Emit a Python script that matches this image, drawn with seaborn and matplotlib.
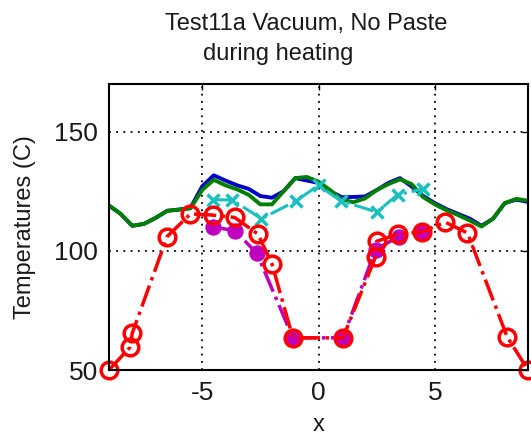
import numpy as np
import pandas as pd
import matplotlib
matplotlib.use("Agg")
import matplotlib.pyplot as plt
import seaborn as sns

# ---- data ----
grid_x = [-9, -8.5, -8, -7.5, -7, -6.5, -6, -5.5, -5, -4.5, -4, -3.5, -3, -2.5, -2, -1.5,
          -1, -0.5, 0, 0.5, 1, 1.5, 2, 2.5, 3, 3.5, 4, 4.5, 5, 5.5, 6, 6.5, 7, 7.5, 8, 8.5, 9]
blue_T = [119, 115.5, 110.5, 111.3, 113.8, 116.8, 117.3, 118, 127, 131.7, 129.5, 127.5, 126,
          123, 122.3, 125, 130.5, 129.5, 128.5, 125, 122.5, 122.6, 122.8, 125.5, 128.5, 130.5,
          127, 123, 120, 117.5, 115.5, 113.5, 110.5, 113.5, 120, 121.5, 120.5]
green_T = [119, 115.5, 110.5, 111.3, 113.8, 116.8, 117.3, 117.8, 125.5, 129.8, 127.5, 125.8,
           123.5, 119.5, 119.5, 125, 130.5, 131, 129, 125.5, 121.5, 120.4, 122, 125.5, 128,
           130, 128, 122.5, 119.5, 117, 115, 112.7, 110.2, 113.5, 120, 121.8, 121]

cyan_x = [-4.55, -3.7, -2.45, -0.95, 0.0, 0.95, 2.5, 3.4, 4.5]
cyan_T = [121.5, 121.3, 113.5, 121, 127.5, 121, 116.3, 123.5, 126]

mag_x = [-4.55, -3.6, -2.65, -1.1, 1.05, 2.45, 3.45, 4.45]
mag_T = [110, 108.5, 99, 63.5, 63.5, 100.5, 106, 108]

red_x = [-9.0, -8.1, -8.0, -6.5, -5.5, -4.55, -3.6, -2.6, -2.0, -1.1, 1.05, 2.45, 2.5,
         3.4, 4.45, 5.45, 6.4, 8.1, 9.0]
red_T = [50, 59.5, 65.5, 106, 115.5, 115, 114, 107, 94.5, 63.5, 63.5, 97.5, 104,
         107, 108, 112, 107.5, 64, 50]

x_ticks = [-5, 0, 5]
y_ticks = [50, 100, 150]

title_lines = ["Test11a Vacuum, No Paste", "during heating"]
x_label = "x"
y_label = "Temperatures (C)"

# ---- styling ----
sns.set_theme(style="white")
plt.rcParams['font.family'] = ['Liberation Sans', 'DejaVu Sans']

fig = plt.figure(figsize=(5.31, 4.42), dpi=100)
ax = fig.add_axes([109/531, 1 - 370/442, (528-109)/531, (370-84)/442])

common = dict(ax=ax, sort=False, estimator=None, legend=False)

blue_c = (0.0, 0.0, 0.8)
green_c = (0.0, 0.5, 0.0)
cyan_c = (0.1, 0.75, 0.75)
mag_c = (0.75, 0.0, 0.75)
red_c = (1.0, 0.0, 0.0)

sns.lineplot(x=grid_x, y=blue_T, color=blue_c, lw=2.8, **common)
sns.lineplot(x=grid_x, y=green_T, color=green_c, lw=2.8, **common)
sns.lineplot(x=cyan_x, y=cyan_T, color=cyan_c, lw=2.2, linestyle='-.',
             marker='x', markersize=9, markeredgewidth=2.5, markeredgecolor=cyan_c, **common)
sns.lineplot(x=mag_x, y=mag_T, color=mag_c, lw=2.5, linestyle='-.',
             marker='o', markersize=11, markerfacecolor=mag_c,
             markeredgecolor=mag_c, **common)
sns.lineplot(x=red_x, y=red_T, color=red_c, lw=2.5, linestyle='-.',
             marker='o', markersize=12, markerfacecolor='none',
             markeredgecolor=red_c, markeredgewidth=2.5, clip_on=False, **common)

ax.set_xlim(-9, 9)
ax.set_ylim(50, 170)
ax.set_xticks(x_ticks)
ax.set_yticks(y_ticks)
ax.set_xticklabels([str(v) for v in x_ticks])
ax.set_yticklabels([str(v) for v in y_ticks])

ax.grid(True, color='black', linestyle=(0, (1, 3)), linewidth=1.3)
for s in ax.spines.values():
    s.set_visible(True)
    s.set_color('black')
    s.set_linewidth(1.5)

ax.tick_params(axis='both', direction='in', length=4, width=1, colors='black',
               top=True, right=True, labelsize=19, pad=8)
for lab in ax.get_xticklabels() + ax.get_yticklabels():
    lab.set_color('#1a1a1a')

ax.set_xlabel(x_label, fontsize=17, color='#1a1a1a')
ax.set_ylabel(y_label, fontsize=17, color='#1a1a1a')
ax.yaxis.set_label_coords((36 - 109) / (528 - 109), 0.5)
ax.xaxis.set_label_coords(0.5, -(414 - 370) / (370 - 84))

fig.text(306/531, 1 - 24/442, title_lines[0], ha='center', va='center', fontsize=17, color='#1a1a1a')
fig.text(278/531, 1 - 54/442, title_lines[1], ha='center', va='center', fontsize=17, color='#1a1a1a')

fig.savefig("out.png", dpi=100)
